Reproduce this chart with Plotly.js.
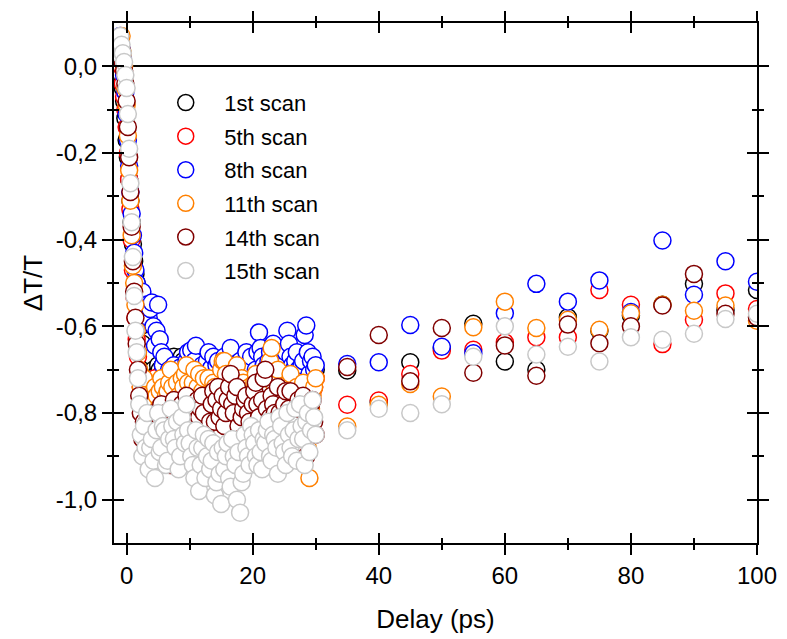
<!DOCTYPE html>
<html>
<head>
<meta charset="utf-8">
<script src="https://cdn.plot.ly/plotly-3.0.1.min.js"></script>
<style>html,body{margin:0;padding:0;background:#fff;}#chart{width:787px;height:639px;}</style>
</head>
<body>
<div id="chart"></div>
<script>
// Delay times (ps), shared by all scans: early rise/drop, dense 3.25-30 ps, sparse 35-100 ps
const delay = [
  -1.2, -1.0, -0.8, -0.6, -0.4, -0.2, 0.0, 0.2, 0.4, 0.6, 0.8, 1.0, 1.2, 1.4, 1.6, 1.8, 2.0, 2.25, 2.5, 2.75, 3.0,
  3.25, 3.5, 3.75, 4.0, 4.25, 4.5, 4.75, 5.0, 5.25, 5.5, 5.75, 6.0,
  6.25, 6.5, 6.75, 7.0, 7.25, 7.5, 7.75, 8.0, 8.25, 8.5, 8.75, 9.0,
  9.25, 9.5, 9.75, 10.0, 10.25, 10.5, 10.75, 11.0, 11.25, 11.5, 11.75, 12.0,
  12.25, 12.5, 12.75, 13.0, 13.25, 13.5, 13.75, 14.0, 14.25, 14.5, 14.75, 15.0,
  15.25, 15.5, 15.75, 16.0, 16.25, 16.5, 16.75, 17.0, 17.25, 17.5, 17.75, 18.0,
  18.25, 18.5, 18.75, 19.0, 19.25, 19.5, 19.75, 20.0, 20.25, 20.5, 20.75, 21.0,
  21.25, 21.5, 21.75, 22.0, 22.25, 22.5, 22.75, 23.0, 23.25, 23.5, 23.75, 24.0,
  24.25, 24.5, 24.75, 25.0, 25.25, 25.5, 25.75, 26.0, 26.25, 26.5, 26.75, 27.0,
  27.25, 27.5, 27.75, 28.0, 28.25, 28.5, 28.75, 29.0, 29.25, 29.5, 29.75, 30.0,
  35, 40, 45, 50, 55, 60, 65, 70, 75, 80, 85, 90, 95, 100
];

const scanNames = ["1st scan", "5th scan", "8th scan", "11th scan", "14th scan", "15th scan"];
const scanColors = ["#000000", "#ff0000", "#0000ff", "#ff8000", "#800000", "#c8c8c8"];

const scan1 = [
  0.02, 0.00, -0.02, -0.05, -0.08, -0.12, -0.17, -0.21, -0.26, -0.31, -0.36, -0.41, -0.45, -0.48, -0.50, -0.53, -0.56, -0.60, -0.64, -0.66, -0.68,
  -0.69, -0.70, -0.68, -0.67, -0.70, -0.72, -0.71, -0.69, -0.70, -0.71, -0.69, -0.68,
  -0.70, -0.73, -0.71, -0.70, -0.68, -0.67, -0.70, -0.72, -0.71, -0.69, -0.67, -0.68,
  -0.70, -0.71, -0.69, -0.70, -0.71, -0.68, -0.70, -0.72, -0.69, -0.66, -0.68, -0.70,
  -0.72, -0.73, -0.70, -0.68, -0.69, -0.71, -0.70, -0.69, -0.71, -0.72, -0.71, -0.70,
  -0.69, -0.71, -0.70, -0.68, -0.71, -0.73, -0.70, -0.69, -0.71, -0.70, -0.69, -0.72,
  -0.70, -0.67, -0.69, -0.71, -0.70, -0.69, -0.72, -0.73, -0.71, -0.70, -0.69, -0.68,
  -0.70, -0.72, -0.71, -0.69, -0.70, -0.71, -0.68, -0.67, -0.70, -0.73, -0.71, -0.70,
  -0.69, -0.68, -0.71, -0.72, -0.69, -0.69, -0.70, -0.71, -0.70, -0.68, -0.69, -0.72,
  -0.71, -0.70, -0.69, -0.70, -0.68, -0.67, -0.69, -0.71, -0.72, -0.73, -0.71, -0.70,
  -0.702, -0.775, -0.683, -0.650, -0.594, -0.681, -0.700, -0.579, -0.610, -0.575, -0.550, -0.502, -0.563, -0.516
];
const scan5 = [
  0.01, 0.03, 0.00, -0.04, -0.07, -0.10, -0.14, -0.20, -0.26, -0.33, -0.40, -0.47, -0.53, -0.58, -0.63, -0.67, -0.71, -0.74, -0.77, -0.75, -0.78,
  -0.76, -0.74, -0.77, -0.79, -0.75, -0.72, -0.74, -0.77, -0.76, -0.75, -0.73, -0.71,
  -0.74, -0.78, -0.76, -0.73, -0.75, -0.76, -0.72, -0.70, -0.73, -0.74, -0.77, -0.79,
  -0.75, -0.72, -0.74, -0.75, -0.76, -0.77, -0.73, -0.71, -0.72, -0.74, -0.76, -0.78,
  -0.74, -0.72, -0.73, -0.76, -0.71, -0.70, -0.72, -0.75, -0.77, -0.73, -0.75, -0.78,
  -0.76, -0.74, -0.72, -0.71, -0.74, -0.77, -0.75, -0.73, -0.74, -0.76, -0.72, -0.70,
  -0.73, -0.75, -0.77, -0.72, -0.70, -0.78, -0.76, -0.74, -0.72, -0.71, -0.74, -0.76,
  -0.75, -0.73, -0.71, -0.69, -0.72, -0.75, -0.74, -0.72, -0.76, -0.77, -0.73, -0.70,
  -0.72, -0.74, -0.71, -0.76, -0.74, -0.72, -0.70, -0.69, -0.71, -0.74, -0.76, -0.71,
  -0.73, -0.71, -0.75, -0.77, -0.74, -0.73, -0.72, -0.70, -0.73, -0.75, -0.74, -0.72,
  -0.781, -0.771, -0.710, -0.656, -0.654, -0.637, -0.625, -0.625, -0.516, -0.550, -0.641, -0.585, -0.524, -0.560
];
const scan8 = [
  0.05, 0.07, 0.04, 0.02, -0.02, -0.06, -0.11, -0.17, -0.23, -0.29, -0.34, -0.39, -0.43, -0.47, -0.50, -0.53, -0.55, -0.57, -0.52, -0.58, -0.55,
  -0.55, -0.58, -0.56, -0.545, -0.60, -0.645, -0.61, -0.55, -0.63, -0.66, -0.69, -0.67,
  -0.72, -0.71, -0.70, -0.74, -0.72, -0.69, -0.71, -0.73, -0.70, -0.695, -0.72, -0.75,
  -0.70, -0.68, -0.66, -0.71, -0.655, -0.70, -0.68, -0.645, -0.70, -0.73, -0.71, -0.69,
  -0.72, -0.72, -0.68, -0.66, -0.70, -0.695, -0.67, -0.74, -0.69, -0.68, -0.72, -0.71,
  -0.69, -0.67, -0.70, -0.72, -0.68, -0.65, -0.71, -0.70, -0.73, -0.74, -0.70, -0.68,
  -0.72, -0.71, -0.69, -0.66, -0.71, -0.69, -0.67, -0.73, -0.72, -0.70, -0.66, -0.614,
  -0.65, -0.67, -0.69, -0.70, -0.72, -0.68, -0.66, -0.68, -0.64, -0.67, -0.71, -0.66,
  -0.69, -0.73, -0.70, -0.69, -0.66, -0.61, -0.64, -0.67, -0.69, -0.70, -0.68, -0.66,
  -0.70, -0.72, -0.69, -0.68, -0.62, -0.598, -0.66, -0.71, -0.68, -0.67, -0.70, -0.69,
  -0.687, -0.683, -0.597, -0.647, -0.662, -0.570, -0.502, -0.543, -0.494, -0.567, -0.402, -0.527, -0.450, -0.497
];
const scan11 = [
  0.06, 0.04, 0.07, 0.03, 0.00, -0.05, -0.09, -0.16, -0.24, -0.31, -0.39, -0.46, -0.50, -0.55, -0.61, -0.66, -0.70, -0.74, -0.78, -0.72, -0.80,
  -0.78, -0.76, -0.80, -0.82, -0.77, -0.74, -0.76, -0.79, -0.75, -0.72, -0.74, -0.78,
  -0.76, -0.75, -0.73, -0.70, -0.74, -0.77, -0.79, -0.73, -0.76, -0.80, -0.72, -0.74,
  -0.71, -0.69, -0.73, -0.76, -0.75, -0.73, -0.70, -0.78, -0.74, -0.71, -0.77, -0.75,
  -0.72, -0.80, -0.76, -0.72, -0.78, -0.77, -0.73, -0.74, -0.79, -0.82, -0.74, -0.70,
  -0.68, -0.68, -0.71, -0.75, -0.77, -0.79, -0.73, -0.72, -0.70, -0.69, -0.74, -0.76,
  -0.72, -0.73, -0.77, -0.81, -0.76, -0.74, -0.79, -0.78, -0.73, -0.71, -0.75, -0.77,
  -0.73, -0.74, -0.76, -0.79, -0.74, -0.72, -0.68, -0.65, -0.73, -0.76, -0.72, -0.70,
  -0.78, -0.82, -0.77, -0.74, -0.75, -0.77, -0.73, -0.71, -0.76, -0.79, -0.77, -0.74,
  -0.80, -0.88, -0.75, -0.73, -0.77, -0.80, -0.88, -0.95, -0.79, -0.76, -0.74, -0.72,
  -0.831, -0.781, -0.733, -0.762, -0.602, -0.543, -0.604, -0.585, -0.608, -0.570, -0.550, -0.564, -0.552, -0.587
];
const scan14 = [
  0.02, 0.05, 0.04, 0.01, -0.01, -0.04, -0.08, -0.14, -0.21, -0.29, -0.37, -0.45, -0.52, -0.58, -0.64, -0.70, -0.76, -0.80, -0.86, -0.82, -0.90,
  -0.82, -0.84, -0.90, -0.93, -0.86, -0.80, -0.84, -0.88, -0.81, -0.78, -0.83, -0.86,
  -0.80, -0.82, -0.85, -0.92, -0.79, -0.77, -0.81, -0.84, -0.86, -0.80, -0.78, -0.88,
  -0.82, -0.76, -0.80, -0.83, -0.85, -0.79, -0.82, -0.86, -0.77, -0.81, -0.79, -0.76,
  -0.80, -0.84, -0.87, -0.90, -0.82, -0.78, -0.75, -0.82, -0.77, -0.74, -0.81, -0.79,
  -0.76, -0.83, -0.80, -0.77, -0.74, -0.71, -0.78, -0.80, -0.76, -0.74, -0.83, -0.86,
  -0.81, -0.79, -0.77, -0.76, -0.80, -0.82, -0.85, -0.78, -0.75, -0.73, -0.78, -0.81,
  -0.84, -0.77, -0.72, -0.70, -0.79, -0.84, -0.81, -0.76, -0.78, -0.80, -0.83, -0.74,
  -0.80, -0.86, -0.82, -0.78, -0.75, -0.82, -0.79, -0.75, -0.84, -0.88, -0.81, -0.79,
  -0.77, -0.84, -0.86, -0.76, -0.80, -0.90, -0.83, -0.81, -0.78, -0.77, -0.82, -0.85,
  -0.694, -0.620, -0.727, -0.604, -0.707, -0.644, -0.714, -0.596, -0.639, -0.600, -0.552, -0.479, -0.571, -0.579
];
const scan15 = [
  0.03, 0.07, 0.05, 0.03, 0.01, -0.02, -0.05, -0.11, -0.19, -0.27, -0.36, -0.44, -0.53, -0.61, -0.66, -0.72, -0.78, -0.85, -0.90, -0.83, -0.88,
  -0.80, -0.93, -0.88, -0.86, -0.91, -0.95, -0.84, -0.80, -0.89, -0.88, -0.83, -0.84,
  -0.92, -0.91, -0.86, -0.79, -0.83, -0.86, -0.88, -0.82, -0.93, -0.90, -0.81, -0.85,
  -0.87, -0.78, -0.84, -0.87, -0.90, -0.92, -0.95, -0.84, -0.88, -0.98, -0.92, -0.88,
  -0.85, -0.95, -0.90, -0.86, -0.93, -0.91, -0.87, -0.99, -0.96, -0.89, -0.94, -1.01,
  -0.88, -0.93, -0.90, -0.87, -0.95, -0.97, -0.86, -0.90, -0.92, -1.00, -0.89, -1.03,
  -0.96, -0.94, -0.85, -0.88, -0.90, -0.92, -0.83, -0.85, -0.87, -0.90, -0.92, -0.84,
  -0.89, -0.93, -0.86, -0.87, -0.84, -0.82, -0.90, -0.91, -0.85, -0.86, -0.88, -0.94,
  -0.81, -0.83, -0.87, -0.89, -0.92, -0.80, -0.85, -0.88, -0.90, -0.84, -0.79, -0.91,
  -0.86, -0.78, -0.83, -0.86, -0.92, -0.82, -0.80, -0.89, -0.84, -0.77, -0.81, -0.85,
  -0.840, -0.790, -0.800, -0.780, -0.670, -0.600, -0.665, -0.647, -0.681, -0.625, -0.631, -0.617, -0.583, -0.571
];

const xTickVals = [0, 20, 40, 60, 80, 100];
const xMinorVals = [10, 30, 50, 70, 90];
const yTickVals = [0, -0.2, -0.4, -0.6, -0.8, -1.0];
const yTickText = ["0,0", "-0,2", "-0,4", "-0,6", "-0,8", "-1,0"];
const yMinorVals = [-0.1, -0.3, -0.5, -0.7, -0.9];

const allScans = [scan1, scan5, scan8, scan11, scan14, scan15];
const FONT = "Liberation Sans, Arial, sans-serif";

const traces = allScans.map((vals, i) => ({
  type: "scatter",
  mode: "markers",
  x: delay,
  y: vals,
  name: scanNames[i],
  legendgroup: "g" + i,
  marker: { symbol: "circle", size: 17, color: "#ffffff", line: { color: scanColors[i], width: 1.5 } },
  cliponaxis: true
}));

const xr = [-2, 100];
const yr = [-1.1, 0.1];
const common = { linecolor: "#000", linewidth: 2, tickcolor: "#000", tickwidth: 2, showgrid: false, fixedrange: true };

const layout = {
  width: 787, height: 639,
  margin: { l: 113.5, r: 30, t: 22.7, b: 96 },
  paper_bgcolor: "#fff", plot_bgcolor: "#fff",
  showlegend: true,
  font: { family: FONT, color: "#000" },
  xaxis: Object.assign({}, common, {
    range: xr, tickmode: "array", tickvals: xTickVals, ticks: "outside", ticklen: 10,
    mirror: "ticks", showline: true, zeroline: false,
    tickfont: { size: 24, family: FONT },
    minor: { tickmode: "array", tickvals: xMinorVals, ticks: "outside", ticklen: 5, tickwidth: 2, tickcolor: "#000", showgrid: false },
    title: { text: "Delay (ps)", font: { size: 26, family: FONT }, standoff: 22 }
  }),
  xaxis2: Object.assign({}, common, {
    range: xr, overlaying: "x", side: "bottom", tickmode: "array", tickvals: xTickVals, ticks: "inside", ticklen: 10,
    mirror: "ticks", showline: false, showticklabels: false, zeroline: false,
    minor: { tickmode: "array", tickvals: xMinorVals, ticks: "inside", ticklen: 5, tickwidth: 2, tickcolor: "#000", showgrid: false }
  }),
  yaxis: Object.assign({}, common, {
    range: yr, tickmode: "array", tickvals: yTickVals, ticktext: yTickText, ticks: "outside", ticklen: 10,
    mirror: "ticks", showline: true, zeroline: true, zerolinecolor: "#000", zerolinewidth: 2,
    tickfont: { size: 24, family: FONT },
    minor: { tickmode: "array", tickvals: yMinorVals, ticks: "outside", ticklen: 5, tickwidth: 2, tickcolor: "#000", showgrid: false },
    title: { text: "ΔT/T", font: { size: 26, family: FONT }, standoff: 6 }
  }),
  yaxis2: Object.assign({}, common, {
    range: yr, overlaying: "y", side: "left", tickmode: "array", tickvals: yTickVals, ticks: "inside", ticklen: 10,
    mirror: "ticks", showline: false, showticklabels: false, zeroline: false,
    minor: { tickmode: "array", tickvals: yMinorVals, ticks: "inside", ticklen: 5, tickwidth: 2, tickcolor: "#000", showgrid: false }
  }),
  legend: {
    x: 0.0517, y: 0.887, xanchor: "left", yanchor: "top",
    bgcolor: "rgba(0,0,0,0)", borderwidth: 0,
    font: { size: 22, family: FONT, color: "#000" },
    traceorder: "grouped", tracegroupgap: 2, itemwidth: 67
  }
};

// invisible helper trace so the overlay axes are drawn
traces.push({ type: "scatter", mode: "markers", x: [], y: [], xaxis: "x2", yaxis: "y2", showlegend: false, hoverinfo: "skip" });

Plotly.newPlot("chart", traces, layout, { staticPlot: true, displayModeBar: false });
</script>
</body>
</html>
